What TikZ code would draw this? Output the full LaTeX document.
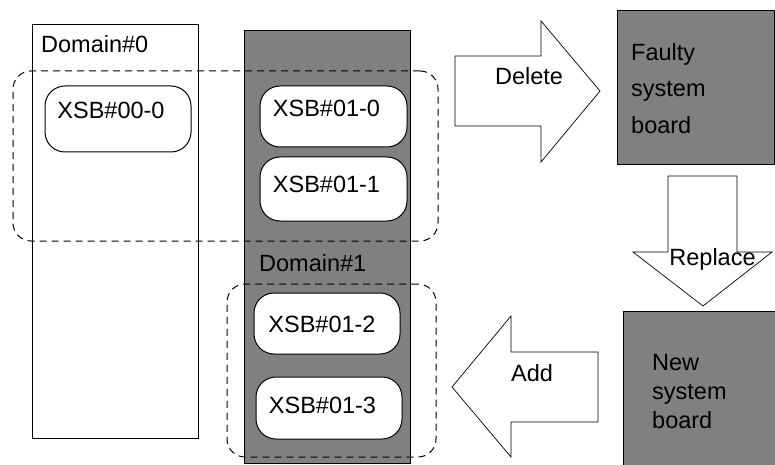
\documentclass[tikz,border=0pt]{standalone}
\usepackage{fontspec}
\setmainfont{Liberation Sans}
\usepackage{tikz}
\usetikzlibrary{positioning}

\begin{document}
\begin{tikzpicture}[x=1pt,y=-1pt,
    box/.style={draw,line width=1pt,inner sep=0pt,outer sep=0pt},
    xsb/.style={box,fill=white,rounded corners=20pt,minimum width=146pt},
    group/.style={draw,line width=1pt,dash pattern=on 7pt off 5pt,rounded corners=18pt,inner sep=0pt},
    bigarrow/.style={draw,fill=white,line width=0.7pt,line join=miter},
    txt/.style={font=\fontsize{23.5}{28}\selectfont,inner sep=0pt}]
    \useasboundingbox (0,0) rectangle (775,465);

    % Domains
    \node[box,minimum width=166pt,minimum height=413pt] (dom0) at (115,231.5) {};
    \node[box,fill=gray,minimum width=166pt,minimum height=432pt] (dom1) at (327,247) {};
    \node[txt,anchor=base west] (dom0lbl) at (41,53) {Domain\#0};
    \node[txt,anchor=base west] (dom1lbl) at (259,271) {Domain\#1};

    % Dashed groups
    \node[group,minimum width=425pt,minimum height=170pt] (grpA) at (225.5,156) {};
    \node[group,minimum width=209pt,minimum height=173pt] (grpB) at (331.5,370.5) {};

    % System boards
    \node[xsb,minimum height=66pt] (x000) at (118,119) {};
    \node[txt,anchor=base] at (111,119) {XSB\#00-0};
    \node[xsb,minimum width=147pt,minimum height=61pt] (x010) at (333.5,116.5) {};
    \node[txt,anchor=base] at (326.5,117) {XSB\#01-0};
    \node[xsb,minimum width=147pt,minimum height=64pt] (x011) at (333.5,189) {};
    \node[txt,anchor=base] at (326.5,192) {XSB\#01-1};
    \node[xsb,minimum height=61pt] (x012) at (327,323.5) {};
    \node[txt,anchor=base] at (322,332) {XSB\#01-2};
    \node[xsb,minimum height=62pt] (x013) at (329,408) {};
    \node[txt,anchor=base] at (322.5,413) {XSB\#01-3};

    % Faulty and new boards
    \node[box,fill=gray,minimum width=157pt,minimum height=153pt] (faulty) at (695.5,87.5) {};
    \node[txt,font=\fontsize{23.5}{36.5}\selectfont,align=left,anchor=north west] at (631,43) {Faulty\\system\\board};
    \node[box,fill=gray,minimum width=153pt,minimum height=156pt] (newbd) at (699.5,389) {};
    \node[txt,font=\fontsize{23.5}{29}\selectfont,align=left,anchor=north west] at (652,354) {New\\system\\board};

    % Delete
    \draw[bigarrow] (455,56) -- (541,56) -- (541,21) -- (600,91) -- (541,162) -- (541,126) -- (455,126) -- cycle;
    \node[txt,anchor=base] (dellbl) at (529,85) {Delete};

    % Replace
    \draw[bigarrow] (668,176) -- (737,176) -- (737,252) -- (772,252) -- (703,306) -- (633,252) -- (668,252) -- cycle;
    \node[txt,anchor=base] (replbl) at (712.5,265) {Replace};

    % Add
    \draw[bigarrow] (452,387) -- (511,316) -- (511,352) -- (598,352) -- (598,422) -- (511,422) -- (511,457) -- cycle;
    \node[txt,anchor=base] (addlbl) at (532,381) {Add};
\end{tikzpicture}
\end{document}
